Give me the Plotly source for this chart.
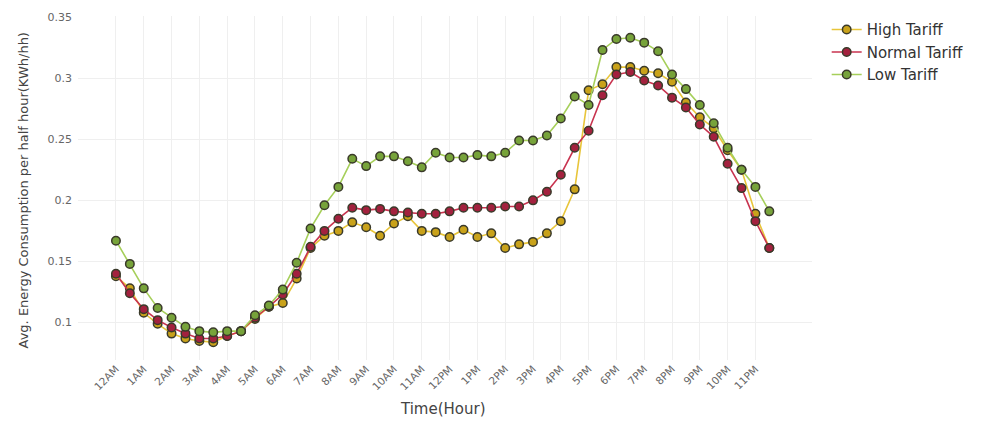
import plotly.graph_objects as go

slots = [i * 0.5 for i in range(48)]  # half-hour slots (hours)
tick_hours = list(range(24))
tick_labels = ["12AM", "1AM", "2AM", "3AM", "4AM", "5AM", "6AM", "7AM", "8AM", "9AM", "10AM", "11AM",
               "12PM", "1PM", "2PM", "3PM", "4PM", "5PM", "6PM", "7PM", "8PM", "9PM", "10PM", "11PM"]

high_tariff = [0.138, 0.128, 0.108, 0.099, 0.091, 0.087, 0.085, 0.084, 0.089, 0.093,
               0.103, 0.113, 0.116, 0.136, 0.161, 0.171, 0.175, 0.182, 0.178, 0.171,
               0.181, 0.187, 0.175, 0.174, 0.170, 0.176, 0.170, 0.173, 0.161, 0.164,
               0.166, 0.173, 0.183, 0.209, 0.290, 0.295, 0.309, 0.309, 0.306, 0.304,
               0.297, 0.280, 0.268, 0.259, 0.241, 0.225, 0.189, 0.161]
normal_tariff = [0.140, 0.124, 0.111, 0.102, 0.096, 0.091, 0.087, 0.087, 0.089, 0.093,
                 0.104, 0.113, 0.123, 0.140, 0.162, 0.175, 0.185, 0.194, 0.192, 0.193,
                 0.191, 0.190, 0.189, 0.189, 0.191, 0.194, 0.194, 0.194, 0.195, 0.195,
                 0.200, 0.207, 0.221, 0.243, 0.257, 0.286, 0.303, 0.305, 0.298, 0.294,
                 0.284, 0.276, 0.262, 0.252, 0.230, 0.210, 0.183, 0.161]
low_tariff = [0.167, 0.148, 0.128, 0.112, 0.104, 0.0965, 0.093, 0.092, 0.093, 0.093,
              0.106, 0.114, 0.127, 0.149, 0.177, 0.196, 0.211, 0.234, 0.228, 0.236,
              0.236, 0.232, 0.227, 0.239, 0.235, 0.235, 0.237, 0.236, 0.239, 0.249,
              0.249, 0.253, 0.267, 0.285, 0.278, 0.323, 0.332, 0.333, 0.329, 0.322,
              0.303, 0.291, 0.278, 0.263, 0.243, 0.225, 0.211, 0.191]

series = [
    ("High Tariff", high_tariff, "#e8c53a", "#c9a21a"),
    ("Normal Tariff", normal_tariff, "#c8334f", "#a3213e"),
    ("Low Tariff", low_tariff, "#a6cf5a", "#77a33a"),
]

fig = go.Figure()
for name, vals, lc, mc in series:
    fig.add_trace(go.Scatter(
        x=slots, y=vals, name=name, mode="lines+markers",
        line=dict(color=lc, width=1.6),
        marker=dict(size=8.5, color=mc, line=dict(color="#3a3a2a", width=1.5)),
    ))

W = 734.0
H = 349.0
fig.update_layout(
    width=981, height=423,
    margin=dict(l=70, r=177, t=3, b=71),
    paper_bgcolor="white", plot_bgcolor="white",
    font=dict(family="DejaVu Sans, sans-serif", color="#4d4d4d"),
    showlegend=True,
    legend=dict(x=1.02, y=1.008, xanchor="left", yanchor="top",
                font=dict(size=15, color="#333333"), tracegroupgap=0,
                bgcolor="rgba(0,0,0,0)"),
    xaxis=dict(range=[-1.365, 25.035], tickmode="array", tickvals=tick_hours, ticktext=tick_labels,
               tickangle=-45, tickfont=dict(size=10.5, color="#666666"),
               showgrid=True, gridcolor="#efefef", gridwidth=1, zeroline=False, showline=False,
               ticks=""),
    yaxis=dict(range=[0.0694, 0.3508], tickmode="array",
               tickvals=[0.1, 0.15, 0.2, 0.25, 0.3, 0.35],
               ticktext=["0.1", "0.15", "0.2", "0.25", "0.3", "0.35"],
               tickfont=dict(size=11, color="#666666"),
               showgrid=True, gridcolor="#efefef", gridwidth=1, zeroline=False, showline=False,
               ticks="", ticklabelstandoff=5),
    annotations=[
        dict(text="Time(Hour)", xref="paper", yref="paper", x=(443 - 78) / W, y=-(410 - 360) / H,
             xanchor="center", yanchor="middle", showarrow=False, font=dict(size=15, color="#444444")),
        dict(text="Avg. Energy Consumption per half hour(KWh/hh)", xref="paper", yref="paper",
             x=(23 - 78) / W, y=(360 - 188) / H, textangle=-90,
             xanchor="center", yanchor="middle", showarrow=False, font=dict(size=13, color="#444444")),
    ],
)

fig.write_html("out.html")
